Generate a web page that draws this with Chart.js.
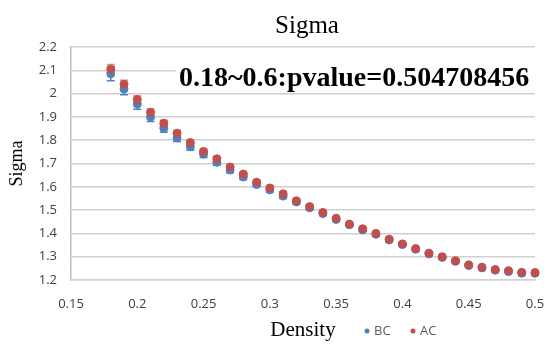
<!DOCTYPE html>
<html>
<head>
<meta charset="utf-8">
<script src="https://cdn.jsdelivr.net/npm/chart.js@4.4.0/dist/chart.umd.min.js"></script>
<style>
  html, body { margin: 0; padding: 0; background: #fff; }
</style>
</head>
<body>
<canvas id="sigmaChart" width="545" height="347"></canvas>
<script>
const density = [0.18, 0.19, 0.20, 0.21, 0.22, 0.23, 0.24, 0.25, 0.26, 0.27, 0.28,
  0.29, 0.30, 0.31, 0.32, 0.33, 0.34, 0.35, 0.36, 0.37, 0.38, 0.39, 0.40,
  0.41, 0.42, 0.43, 0.44, 0.45, 0.46, 0.47, 0.48, 0.49, 0.50];

const bcSigma = [2.085, 2.02, 1.955, 1.90, 1.852, 1.81, 1.772, 1.74, 1.705, 1.672, 1.642,
  1.61, 1.587, 1.56, 1.535, 1.51, 1.485, 1.46, 1.437, 1.415, 1.396, 1.372, 1.352,
  1.332, 1.312, 1.297, 1.28, 1.262, 1.252, 1.242, 1.236, 1.229, 1.229];

const acSigma = [2.105, 2.04, 1.975, 1.92, 1.873, 1.83, 1.79, 1.752, 1.72, 1.685, 1.655,
  1.62, 1.595, 1.57, 1.54, 1.515, 1.49, 1.465, 1.44, 1.42, 1.40, 1.375, 1.355,
  1.335, 1.315, 1.30, 1.283, 1.265, 1.255, 1.245, 1.24, 1.233, 1.232];

const bcErr = [0.03, 0.025, 0.022, 0.02, 0.018, 0.016, 0.015, 0.014, 0.013, 0.012, 0.011,
  0.01, 0.01, 0.009, 0.009, 0.008, 0.008, 0.008, 0.007, 0.007, 0.007, 0.007, 0.006,
  0.006, 0.006, 0.006, 0.006, 0.006, 0.006, 0.005, 0.005, 0.005, 0.005];

const acErr = [0.02, 0.017, 0.015, 0.014, 0.013, 0.012, 0.011, 0.01, 0.01, 0.009, 0.009,
  0.008, 0.008, 0.008, 0.007, 0.007, 0.007, 0.006, 0.006, 0.006, 0.006, 0.006, 0.005,
  0.005, 0.005, 0.005, 0.005, 0.005, 0.005, 0.005, 0.005, 0.005, 0.005];

const pvalueNote = '0.18~0.6:pvalue=0.504708456';

const BLUE = '#4f81bd';
const RED = '#c0504d';

// vertical error bars with caps, drawn from the chart's own scales
const errorBars = {
  id: 'errorBars',
  beforeDatasetsDraw(chart) {
    const { ctx, scales: { x, y } } = chart;
    const sets = [
      { ys: bcSigma, err: bcErr, color: BLUE },
      { ys: acSigma, err: acErr, color: '#e08a88' }
    ];
    ctx.save();
    ctx.lineWidth = 1.5;
    sets.forEach(s => {
      ctx.strokeStyle = s.color;
      density.forEach((d, i) => {
        const px = x.getPixelForValue(d);
        const top = y.getPixelForValue(s.ys[i] + s.err[i]);
        const bot = y.getPixelForValue(s.ys[i] - s.err[i]);
        ctx.beginPath();
        ctx.moveTo(px, top); ctx.lineTo(px, bot);
        ctx.moveTo(px - 4, top); ctx.lineTo(px + 4, top);
        ctx.moveTo(px - 4, bot); ctx.lineTo(px + 4, bot);
        ctx.stroke();
      });
    });
    ctx.restore();
  }
};

const texts = {
  id: 'texts',
  afterDraw(chart) {
    const ctx = chart.ctx;
    ctx.save();
    ctx.fillStyle = '#000';
    ctx.textAlign = 'center';
    ctx.textBaseline = 'alphabetic';
    ctx.font = '25px "Liberation Serif"';
    ctx.fillText('Sigma', 307, 33);

    // note box covers the gridline behind it
    ctx.fillStyle = '#fff';
    ctx.fillRect(176, 62, 359, 24);
    ctx.fillStyle = '#000';
    ctx.textAlign = 'left';
    ctx.font = 'bold 28px "Liberation Serif"';
    ctx.fillText(pvalueNote, 179, 86);

    // legend next to the axis title
    ctx.font = '13px "Open Sans"';
    ctx.textBaseline = 'middle';
    ctx.fillStyle = BLUE;
    ctx.beginPath(); ctx.arc(367, 331, 2.5, 0, Math.PI * 2); ctx.fill();
    ctx.fillStyle = RED;
    ctx.beginPath(); ctx.arc(413, 331, 2.5, 0, Math.PI * 2); ctx.fill();
    ctx.fillStyle = '#595959';
    ctx.fillText('BC', 374, 331);
    ctx.fillText('AC', 420, 331);
    ctx.restore();
  }
};

const tickFont = { family: '"Open Sans"', size: 13 };

new Chart(document.getElementById('sigmaChart'), {
  type: 'scatter',
  data: {
    datasets: [
      {
        label: 'BC',
        data: density.map((d, i) => ({ x: d, y: bcSigma[i] })),
        backgroundColor: BLUE,
        borderColor: BLUE,
        pointRadius: 4,
        clip: false,
        order: 2
      },
      {
        label: 'AC',
        data: density.map((d, i) => ({ x: d, y: acSigma[i] })),
        backgroundColor: RED,
        borderColor: RED,
        pointRadius: 4,
        clip: false,
        order: 1
      }
    ]
  },
  options: {
    responsive: false,
    animation: false,
    layout: { padding: { left: 0, right: 0, top: 47, bottom: 0 } },
    plugins: {
      legend: { display: false },
      tooltip: { enabled: false }
    },
    scales: {
      x: {
        type: 'linear',
        min: 0.15,
        max: 0.5,
        grid: { display: false, drawTicks: false },
        border: { display: true, color: '#d0d0d0', width: 1.5 },
        ticks: {
          stepSize: 0.05,
          padding: 16,
          color: '#404040',
          font: tickFont,
          callback: v => String(+v.toFixed(2))
        },
        title: {
          display: true,
          text: 'Density',
          color: '#000',
          font: { family: '"Liberation Serif"', size: 21 },
          padding: { top: 4, bottom: 4 }
        },
        afterFit: s => { s.height = 67; s.paddingRight = 10; }
      },
      y: {
        min: 1.2,
        max: 2.2,
        grid: { color: '#d0d0d0', lineWidth: 1.5, drawTicks: false },
        border: { display: true, color: '#bfbfbf', width: 1.5 },
        ticks: {
          stepSize: 0.1,
          padding: 14,
          color: '#404040',
          font: tickFont,
          callback: v => String(+v.toFixed(1))
        },
        title: {
          display: true,
          text: 'Sigma',
          color: '#000',
          font: { family: '"Liberation Serif"', size: 18 },
          padding: { top: 6, bottom: 0 }
        },
        afterFit: s => { s.width = 71; }
      }
    }
  },
  plugins: [errorBars, texts]
});
</script>
</body>
</html>
